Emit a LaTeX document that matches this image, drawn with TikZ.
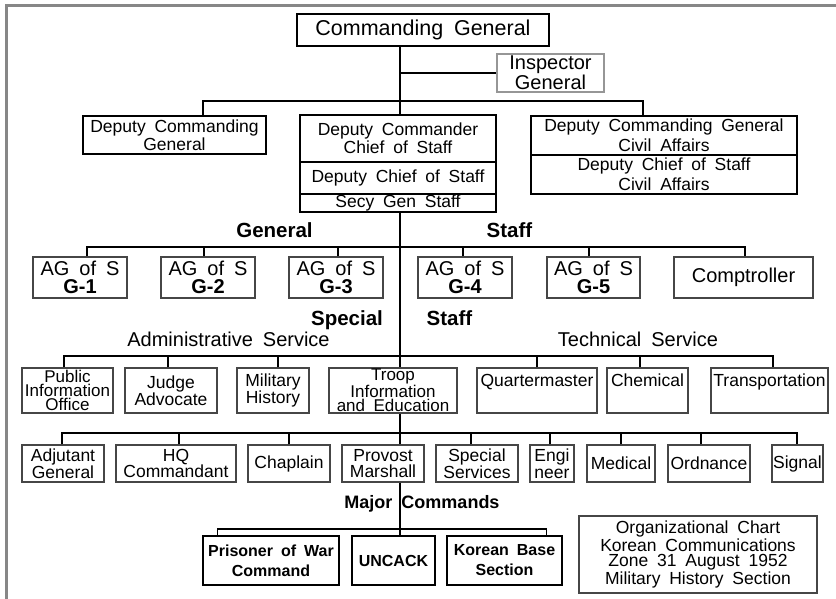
\documentclass[tikz,border=0pt]{standalone}
\usepackage{fontspec}
\setmainfont{Liberation Sans}[WordSpace=1.8]
\newcommand\myfs[2]{\fontsize{#1pt}{#2pt}\selectfont}
\definecolor{framegray}{RGB}{135,135,135}
\definecolor{boxgray}{RGB}{70,70,70}
\definecolor{lightgraybox}{RGB}{150,150,150}
\begin{document}
\begin{tikzpicture}[x=1pt,y=-1pt,
  box/.style={draw=black, line width=1.2pt, inner sep=0pt, align=center, rectangle},
  gbox/.style={box, draw=boxgray},
  conn/.style={line width=1.2pt, black},
  lbl/.style={inner sep=0pt, align=center},
  blbl/.style={lbl, font=\bfseries\myfs{20.5}{22}, anchor=base},
]
\useasboundingbox (0,0) rectangle (836,599);
\draw[line width=3pt, framegray] (6.5,599) -- (6.5,5.5) -- (836,5.5);

% top
\node[box, minimum width=252pt, minimum height=32pt, font=\myfs{21.5}{24}] (cg) at (423,30) {Commanding General};
\node[box, draw=lightgraybox, minimum width=107pt, minimum height=38pt, font=\myfs{20}{15}] (ig) at (550.5,73) {Inspector\\General};
\node[box, minimum width=183pt, minimum height=38pt, font=\myfs{17.5}{18}] (dcg) at (174.5,135) {Deputy Commanding\\General};
\node[box, minimum width=196pt, minimum height=47pt, font=\myfs{17.5}{18}] (dc1) at (398,138.5) {Deputy Commander\\Chief of Staff};
\node[box, minimum width=196pt, minimum height=32pt, font=\myfs{17.5}{18}] (dc2) at (398,178) {Deputy Chief of Staff};
\node[box, minimum width=196pt, minimum height=18pt, font=\myfs{17.5}{18}] (dc3) at (398,203) {Secy Gen Staff};
\node[box, minimum width=266pt, minimum height=39pt, font=\myfs{17.5}{20}] (ca1) at (664,135.5) {Deputy Commanding General\\Civil Affairs};
\node[box, minimum width=266pt, minimum height=39pt, font=\myfs{17.5}{20}] (ca2) at (664,174.5) {Deputy Chief of Staff\\Civil Affairs};

% general staff
\node[blbl] (lgen) at (274.5,237) {General};
\node[blbl] (lstaffa) at (509.5,237) {Staff};
\node[gbox, minimum width=94pt, minimum height=41pt, font=\myfs{20}{18}] (g1) at (80,277.5) {AG of S\\\textbf{G-1}};
\node[gbox, minimum width=94pt, minimum height=41pt, font=\myfs{20}{18}] (g2) at (208,277.5) {AG of S\\\textbf{G-2}};
\node[gbox, minimum width=94pt, minimum height=41pt, font=\myfs{20}{18}] (g3) at (336,277.5) {AG of S\\\textbf{G-3}};
\node[gbox, minimum width=94pt, minimum height=41pt, font=\myfs{20}{18}] (g4) at (465,277.5) {AG of S\\\textbf{G-4}};
\node[gbox, minimum width=93pt, minimum height=41pt, font=\myfs{20}{18}] (g5) at (593.5,277.5) {AG of S\\\textbf{G-5}};
\node[gbox, minimum width=139pt, minimum height=41pt, font=\myfs{20}{18}] (comp) at (743.5,277.5) {Comptroller};

% special staff
\node[blbl] (lspec) at (347,325) {Special};
\node[blbl] (lstaffb) at (449.5,325) {Staff};
\node[lbl, anchor=base, font=\myfs{20}{22}] (ladm) at (228.5,346) {Administrative Service};
\node[lbl, anchor=base, font=\myfs{20}{22}] (ltech) at (638,346) {Technical Service};

\node[gbox, minimum width=91pt, minimum height=45pt, font=\myfs{17}{14}] (pio) at (67.5,390.5) {Public\\Information\\Office};
\node[gbox, minimum width=92pt, minimum height=45pt, font=\myfs{17.5}{14}] (ja) at (171,390.5) {Judge\\Advocate};
\node[gbox, minimum width=72pt, minimum height=45pt, font=\myfs{17.5}{14}] (mh) at (273,390.5) {Military\\History};
\node[gbox, minimum width=128pt, minimum height=45pt, font=\myfs{17}{14}] (ti) at (393,390.5) {Troop\\Information\\and Education};
\node[gbox, minimum width=120pt, text height=18.5pt, text depth=26.5pt, font=\myfs{17.5}{18}] (qm) at (537,390.5) {Quartermaster};
\node[gbox, minimum width=81pt, text height=18.5pt, text depth=26.5pt, font=\myfs{17.5}{18}] (chem) at (647.5,390.5) {Chemical};
\node[gbox, minimum width=117pt, text height=18.5pt, text depth=26.5pt, font=\myfs{17.5}{18}] (trans) at (769.5,390.5) {Transportation};

% row 5
\node[gbox, minimum width=82pt, minimum height=37pt, font=\myfs{17.5}{16.5}] (ag) at (63,463.5) {Adjutant\\General};
\node[gbox, minimum width=120pt, minimum height=37pt, font=\myfs{17.5}{16.5}] (hq) at (176,463.5) {HQ\\Commandant};
\node[gbox, minimum width=82pt, minimum height=37pt, font=\myfs{17.5}{16.5}] (chap) at (289,463.5) {Chaplain};
\node[gbox, minimum width=82pt, minimum height=37pt, font=\myfs{17.5}{16.5}] (pm) at (383,463.5) {Provost\\Marshall};
\node[gbox, minimum width=82pt, minimum height=37pt, font=\myfs{17.5}{16.5}] (ss) at (477,463.5) {Special\\Services};
\node[gbox, minimum width=44pt, minimum height=37pt, font=\myfs{17.5}{16.5}] (eng) at (552,463.5) {Engi\\neer};
\node[gbox, minimum width=68pt, minimum height=37pt, font=\myfs{17.5}{16.5}] (med) at (621,463.5) {Medical};
\node[gbox, minimum width=82pt, minimum height=37pt, font=\myfs{17.5}{16.5}] (ord) at (709,463.5) {Ordnance};
\node[gbox, minimum width=51pt, minimum height=37pt, font=\myfs{17.5}{16.5}] (sig) at (797.5,463.5) {Signal};

% major commands
\node[lbl, anchor=base, font=\bfseries\myfs{18}{20}] (lmaj) at (422,508) {Major Commands};
\node[box, minimum width=136pt, minimum height=49pt, font=\bfseries\myfs{16}{20}] (pow) at (271,560.5) {Prisoner of War\\Command};
\node[box, minimum width=83pt, minimum height=49pt, font=\bfseries\myfs{16}{20}] (unc) at (393.5,560.5) {UNCACK};
\node[box, minimum width=115pt, minimum height=49pt, font=\bfseries\myfs{16}{20}] (kbs) at (504.5,560.5) {Korean Base\\Section};
\node[gbox, minimum width=238pt, minimum height=77pt, font=\myfs{17.5}{15.5}] (org) at (698,554.5) {Organizational Chart\\Korean Communications\\Zone 31 August 1952\\Military History Section};

% connectors
\coordinate (sp) at (400,0);
\draw[conn] (cg.south -| sp) -- (dc1.north -| sp);
\draw[conn] (ig.west -| sp) -- (ig.west);
\coordinate (b2) at (400,101);
\draw[conn] ([xshift=28.5pt]dcg.north) |- (b2) -| ([xshift=-21pt]ca1.north);

\coordinate (b3) at (400,247);
\draw[conn] (dc3.south -| sp) -- (ti.north -| sp);
\draw[conn] ([xshift=7pt]g1.north) |- (b3) -| ([xshift=1.5pt]comp.north);
\draw[conn] ([xshift=-4pt]g2.north) -- ++(0,-10);
\draw[conn] ([xshift=2pt]g3.north) -- ++(0,-10);
\draw[conn] ([xshift=-2pt]g4.north) -- ++(0,-10);
\draw[conn] ([xshift=-4.5pt]g5.north) -- ++(0,-10);

\coordinate (b4) at (400,356);
\draw[conn] ([xshift=-3.5pt]pio.north) |- (b4) -| ([xshift=3.5pt]trans.north);
\draw[conn] ([xshift=-3pt]ja.north) -- ++(0,-12);
\draw[conn] ([xshift=5pt]mh.north) -- ++(0,-12);
\draw[conn] (qm.north) -- ++(0,-12);
\draw[conn] ([xshift=-7.5pt]chem.north) -- ++(0,-12);

\coordinate (b5) at (400,433);
\draw[conn] (ti.south -| sp) -- (pm.north -| sp);
\draw[conn] ([xshift=-1pt]ag.north) |- (b5) -| ([xshift=-0.5pt]sig.north);
\draw[conn] ([xshift=3pt]hq.north) -- ++(0,-12);
\draw[conn] (chap.north) -- ++(0,-12);
\draw[conn] ([xshift=-6pt]ss.north) -- ++(0,-12);
\draw[conn] ([xshift=-2pt]eng.north) -- ++(0,-12);
\draw[conn] (med.north) -- ++(0,-12);
\draw[conn] ([xshift=-8pt]ord.north) -- ++(0,-12);

\coordinate (b6) at (400,529);
\draw[conn] (pm.south -| sp) -- (unc.north -| sp);
\draw[conn] ([xshift=15pt]pow.north west) |- (b6) -| ([xshift=-16pt]kbs.north east);
\end{tikzpicture}
\end{document}
